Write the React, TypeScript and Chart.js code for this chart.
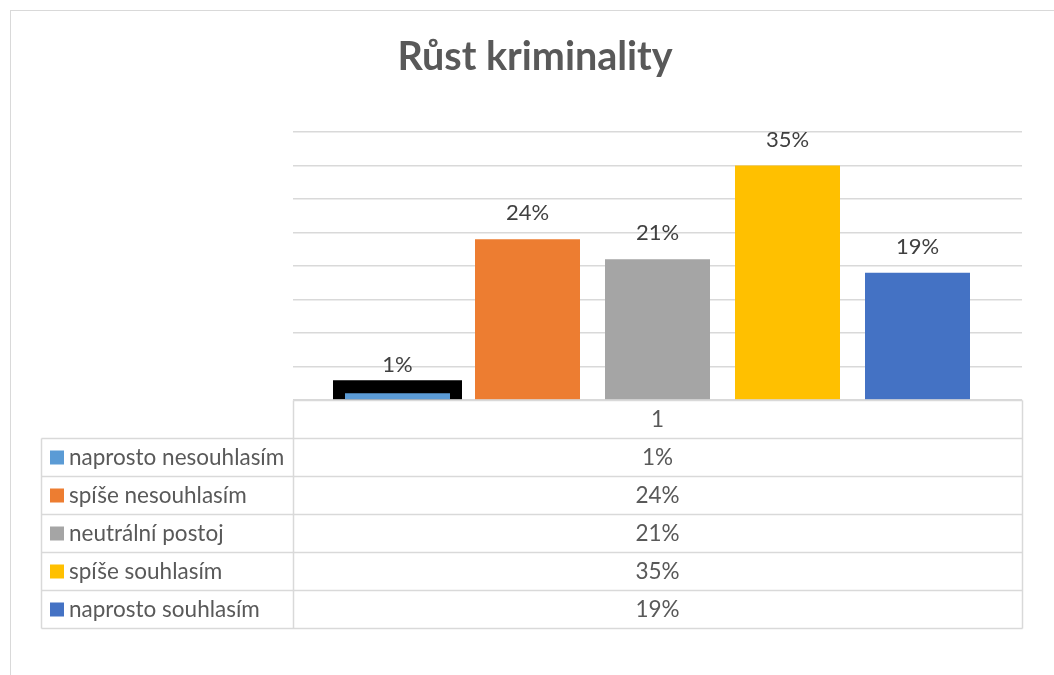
import React, { useEffect, useRef } from "react";
import { Chart, registerables } from "chart.js";

Chart.register(...registerables);

const titleText = "Růst kriminality";
const categories = ["1"];
const seriesNames = [
  "naprosto nesouhlasím",
  "spíše nesouhlasím",
  "neutrální postoj",
  "spíše souhlasím",
  "naprosto souhlasím",
];
const seriesValues = [1, 24, 21, 35, 19];
const seriesColors = ["#5B9BD5", "#ED7D31", "#A5A5A5", "#FFC000", "#4472C4"];
const yTicks = [0, 5, 10, 15, 20, 25, 30, 35, 40];

const FONT = "Lato, 'Open Sans', sans-serif";
const LINE = "#d9d9d9";
const TEXT = "#595959";

export default function App() {
  const ref = useRef<HTMLCanvasElement | null>(null);

  useEffect(() => {
    if (!ref.current) return;

    const titlePlugin = {
      id: "titleText",
      afterDraw(chart: any) {
        const ctx = chart.ctx;
        ctx.save();
        ctx.font = `bold 39.5px ${FONT}`;
        ctx.fillStyle = TEXT;
        ctx.textAlign = "center";
        ctx.textBaseline = "alphabetic";
        ctx.fillText(titleText, 535, 70);
        ctx.restore();
      },
    };

    const highlightPlugin = {
      id: "highlight",
      beforeDatasetsDraw(chart: any) {
        const meta = chart.getDatasetMeta(0);
        const bar = meta.data[0];
        if (!bar) return;
        const p = bar.getProps(["x", "width", "base"], true);
        const ctx = chart.ctx;
        ctx.save();
        ctx.fillStyle = "#000000";
        ctx.fillRect(p.x - p.width / 2 - 12, p.base - 19, p.width + 24, 19);
        ctx.restore();
      },
    };

    const labelPlugin = {
      id: "valueLabels",
      afterDatasetsDraw(chart: any) {
        const ctx = chart.ctx;
        ctx.save();
        ctx.font = `22px ${FONT}`;
        ctx.fillStyle = "#404040";
        ctx.textAlign = "center";
        ctx.textBaseline = "middle";
        chart.data.datasets.forEach((ds: any, i: number) => {
          const meta = chart.getDatasetMeta(i);
          meta.data.forEach((bar: any, j: number) => {
            const p = bar.getProps(["x", "y"], true);
            const extra = i === 0 ? 2 : 0;
            ctx.fillText(`${ds.data[j]}%`, p.x, p.y - 26 - extra);
          });
        });
        ctx.restore();
      },
    };

    const tablePlugin = {
      id: "dataTable",
      afterDraw(chart: any) {
        const ctx = chart.ctx;
        const area = chart.chartArea;
        const rowH = 38;
        const leftX = 41;
        const top = area.bottom;
        const n = seriesNames.length;
        ctx.save();
        ctx.strokeStyle = LINE;
        ctx.lineWidth = 1.5;
        const L = Math.round(area.left) + 0.5;
        const R = Math.round(area.right) + 0.5;
        const T = Math.round(top) + 0.5;
        const bottom = T + rowH * (n + 1);
        ctx.beginPath();
        ctx.moveTo(L, T);
        ctx.lineTo(R, T);
        ctx.moveTo(L, T);
        ctx.lineTo(L, bottom);
        ctx.moveTo(R, T);
        ctx.lineTo(R, bottom);
        for (let r = 1; r <= n + 1; r++) {
          const y = T + rowH * r;
          ctx.moveTo(leftX + 0.5, y);
          ctx.lineTo(R, y);
        }
        ctx.moveTo(leftX + 0.5, T + rowH);
        ctx.lineTo(leftX + 0.5, bottom);
        ctx.stroke();

        ctx.font = `22.5px ${FONT}`;
        ctx.textBaseline = "middle";
        const cx = (area.left + area.right) / 2;
        ctx.fillStyle = TEXT;
        ctx.textAlign = "center";
        ctx.fillText(categories[0], cx, T + rowH / 2);
        seriesNames.forEach((name, i) => {
          const yc = T + rowH * (i + 1) + rowH / 2;
          ctx.fillStyle = seriesColors[i];
          ctx.fillRect(leftX + 9, yc - 7, 14, 14);
          ctx.fillStyle = TEXT;
          ctx.textAlign = "left";
          ctx.fillText(name, leftX + 28, yc);
          ctx.textAlign = "center";
          ctx.fillText(`${seriesValues[i]}%`, cx, yc);
        });
        ctx.restore();
      },
    };

    const chart = new Chart(ref.current, {
      type: "bar",
      data: {
        labels: categories,
        datasets: seriesNames.map((name, i) => ({
          label: name,
          data: [seriesValues[i]],
          backgroundColor: seriesColors[i],
          borderWidth: 0,
          categoryPercentage: 650 / 729,
          barPercentage: 105 / 130,
        })),
      },
      options: {
        responsive: false,
        animation: false,
        events: [],
        layout: { padding: { left: 293, right: 32, top: 132, bottom: 275 } },
        plugins: {
          legend: { display: false },
          tooltip: { enabled: false },
          title: { display: false },
        },
        scales: {
          x: {
            display: false,
          },
          y: {
            min: 0,
            max: 40,
            afterBuildTicks(scale: any) {
              scale.ticks = yTicks.map((v) => ({ value: v }));
            },
            afterFit(scale: any) {
              scale.width = 0;
            },
            ticks: { display: false },
            border: { display: false },
            grid: { color: LINE, lineWidth: 1.5, drawTicks: false },
          },
        },
      },
      plugins: [titlePlugin, highlightPlugin, labelPlugin, tablePlugin],
    });
    return () => chart.destroy();
  }, []);

  return (
    <div style={{ position: "fixed", left: 0, top: 0, width: 1054, height: 675, background: "#fff" }}>
      <div
        style={{
          position: "absolute",
          left: 10,
          top: 10,
          width: 1100,
          height: 700,
          borderLeft: `1px solid ${LINE}`,
          borderTop: `1px solid ${LINE}`,
        }}
      />
      <canvas ref={ref} width={1054} height={675} style={{ position: "absolute", left: 0, top: 0 }} />
    </div>
  );
}
